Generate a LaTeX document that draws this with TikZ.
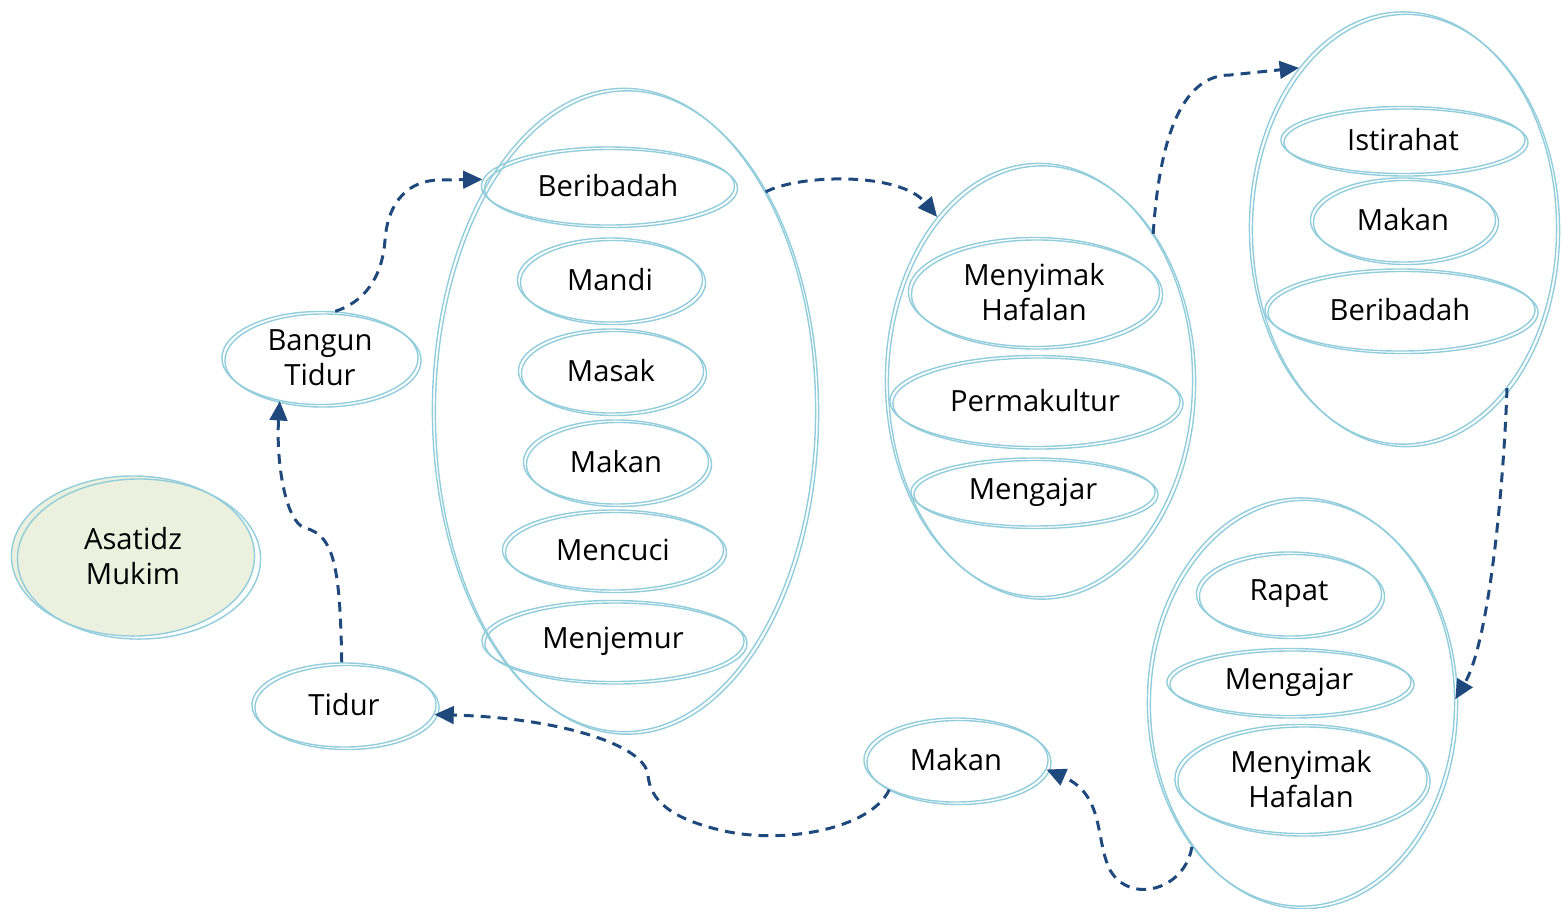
\documentclass[tikz,border=0pt]{standalone}
\usepackage{fontspec}
\setmainfont{Open Sans}
\usetikzlibrary{shapes.geometric,arrows.meta}
\definecolor{garis}{HTML}{92CDDC}
\definecolor{panah}{HTML}{1F497D}
\definecolor{hijau}{HTML}{EBF1DE}
\begin{document}
\begin{tikzpicture}[x=0.01cm,y=-0.01cm,
    kegiatan/.style={ellipse, draw=garis, line width=0.4pt, inner sep=0pt, align=center,
      font=\fontsize{8.3}{10}\selectfont,
      postaction={draw=garis, line width=0.4pt, transform canvas={shift={(0.03cm,-0.025cm)}}}},
    tokoh/.style={ellipse, draw=garis, line width=0.4pt, inner sep=0pt, align=center,
      fill=hijau, font=\fontsize{8.3}{10}\selectfont,
      postaction={draw=garis, line width=0.4pt, transform canvas={shift={(0.06cm,-0.03cm)}}}},
    alur/.style={draw=panah, line width=0.85pt, dash pattern=on 2.8pt off 2pt,
      -{Triangle[length=5.5pt,width=5pt]}}]
  \useasboundingbox (0,0) rectangle (1562,908);
  % pelaku
  \node[tokoh, minimum width=2.43cm, minimum height=1.6cm] (asatidz) at (133,556) {Asatidz\\Mukim};
  % kegiatan tunggal
  \node[kegiatan, minimum width=1.96cm, minimum height=0.93cm] (bangun) at (320,358) {Bangun\\Tidur};
  \node[kegiatan, minimum width=1.84cm, minimum height=0.84cm] (tidur) at (344,705) {Tidur};
  \node[kegiatan, minimum width=1.84cm, minimum height=0.84cm] (makanMalam) at (956,760) {Makan};
  % kelompok kegiatan
  \node[kegiatan, minimum width=3.83cm, minimum height=6.43cm] (pagi) at (624,410) {};
  \node[kegiatan, minimum width=3.07cm, minimum height=4.33cm] (siang) at (1039,380) {};
  \node[kegiatan, minimum width=3.07cm, minimum height=4.32cm] (sore) at (1403,228) {};
  \node[kegiatan, minimum width=3.07cm, minimum height=4.08cm] (malam) at (1301,702) {};
  % isi pagi
  \node[kegiatan, minimum width=2.53cm, minimum height=0.78cm] (beribadahPagi) at (608,186) {Beribadah};
  \node[kegiatan, minimum width=1.85cm, minimum height=0.84cm] (mandi) at (610,280) {Mandi};
  \node[kegiatan, minimum width=1.85cm, minimum height=0.84cm] (masak) at (611,371) {Masak};
  \node[kegiatan, minimum width=1.85cm, minimum height=0.84cm] (makanPagi) at (616,462) {Makan};
  \node[kegiatan, minimum width=2.21cm, minimum height=0.80cm] (mencuci) at (613,550) {Mencuci};
  \node[kegiatan, minimum width=2.62cm, minimum height=0.81cm] (menjemur) at (613,641) {Menjemur};
  % isi siang
  \node[kegiatan, minimum width=2.51cm, minimum height=1.09cm] (menyimakSiang) at (1034,292) {Menyimak\\Hafalan};
  \node[kegiatan, minimum width=2.90cm, minimum height=0.91cm] (permakultur) at (1035,401) {Permakultur};
  \node[kegiatan, minimum width=2.44cm, minimum height=0.68cm] (mengajarSiang) at (1033,492) {Mengajar};
  % isi sore
  \node[kegiatan, minimum width=2.44cm, minimum height=0.67cm] (istirahat) at (1403,140) {Istirahat};
  \node[kegiatan, minimum width=1.85cm, minimum height=0.84cm] (makanSore) at (1403,220) {Makan};
  \node[kegiatan, minimum width=2.70cm, minimum height=0.82cm] (beribadahSore) at (1400,310) {Beribadah};
  % isi malam
  \node[kegiatan, minimum width=1.85cm, minimum height=0.84cm] (rapat) at (1289,594) {Rapat};
  \node[kegiatan, minimum width=2.44cm, minimum height=0.67cm] (mengajarMalam) at (1289,682) {Mengajar};
  \node[kegiatan, minimum width=2.52cm, minimum height=1.09cm] (menyimakMalam) at (1301,779) {Menyimak\\Hafalan};
  \begin{scope}[alur]
    \draw (tidur.93) .. controls (340,570) and (335,535) .. (305,528)
      .. controls (285,522) and (276,460) .. (bangun.227);
    \draw (bangun.72) .. controls (370,300) and (383,270) .. (385,240)
      .. controls (388,200) and (410,180) .. (440,180) -- (beribadahPagi.177);
    \draw (pagi.57) .. controls (800,174) and (900,172) .. (siang.122);
    \draw (siang.52) .. controls (1160,130) and (1185,75) .. (1230,75) -- (sore.123);
    \draw (sore.303) .. controls (1504,480) and (1490,640) .. (malam.1);
    \draw (malam.233) .. controls (1185,890) and (1130,905) .. (1110,870)
      .. controls (1095,840) and (1105,795) .. (makanMalam.354);
    \draw (makanMalam.204) .. controls (870,830) and (780,845) .. (720,830)
      .. controls (670,818) and (650,800) .. (648,775)
      .. controls (645,745) and (560,718) .. (tidur.354);
  \end{scope}
\end{tikzpicture}
\end{document}
